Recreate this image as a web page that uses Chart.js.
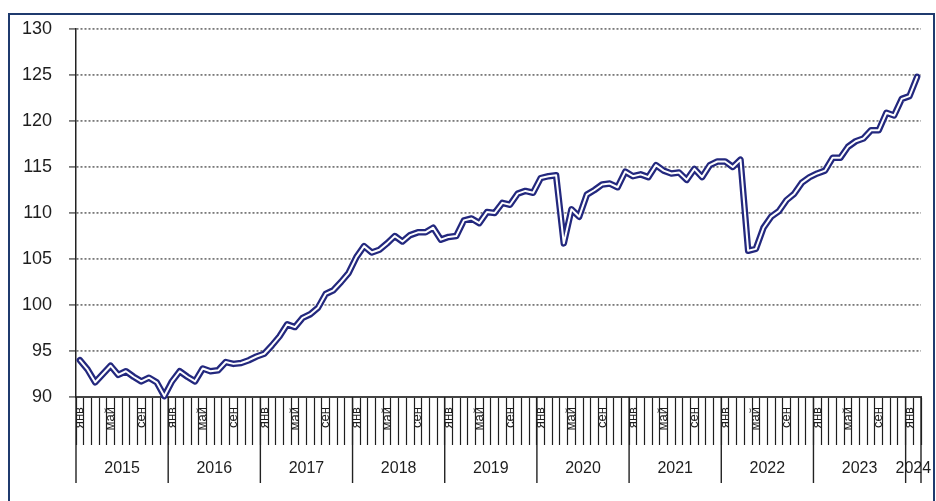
<!DOCTYPE html>
<html>
<head>
    <meta charset="utf-8">
    <title>Индекс</title>
    <script src="https://cdn.jsdelivr.net/npm/chart.js@4.4.1/dist/chart.umd.min.js"></script>
    <style>
        html, body { margin: 0; padding: 0; background: #fff; }
        #wrap { width: 936px; height: 501px; position: relative; }
    </style>
</head>
<body>
    <div id="wrap"><canvas id="chart"></canvas></div>
    <script>
    // years and month names of the category axis
    var years = ['2015', '2016', '2017', '2018', '2019', '2020', '2021', '2022', '2023', '2024'];
    var monthNames = ['янв', 'фев', 'мар', 'апр', 'май', 'июн', 'июл', 'авг', 'сен', 'окт', 'ноя', 'дек'];
    var shownMonths = ['янв', 'май', 'сен'];

    // index values by year, jan..dec (2024: jan, feb)
    var v2015 = [94.0, 93.0, 91.6, 92.5, 93.4, 92.4, 92.8, 92.2, 91.7, 92.1, 91.6, 90.1];
    var v2016 = [91.7, 92.8, 92.2, 91.7, 93.1, 92.8, 92.9, 93.8, 93.6, 93.7, 94.0, 94.4];
    var v2017 = [94.7, 95.6, 96.6, 97.9, 97.6, 98.6, 99.0, 99.7, 101.2, 101.6, 102.5, 103.5];
    var v2018 = [105.2, 106.4, 105.7, 106.0, 106.7, 107.5, 106.9, 107.6, 107.9, 107.9, 108.4, 107.1];
    var v2019 = [107.4, 107.5, 109.2, 109.4, 108.9, 110.1, 110.0, 111.1, 110.9, 112.1, 112.4, 112.2];
    var v2020 = [113.8, 114.0, 114.1, 106.7, 110.4, 109.6, 112.0, 112.5, 113.1, 113.2, 112.8, 114.5];
    var v2021 = [114.0, 114.2, 113.9, 115.2, 114.6, 114.3, 114.4, 113.6, 114.8, 113.9, 115.2, 115.6];
    var v2022 = [115.6, 115.0, 115.8, 105.9, 106.1, 108.4, 109.6, 110.2, 111.4, 112.1, 113.3, 113.9];
    var v2023 = [114.3, 114.6, 116.0, 116.0, 117.2, 117.8, 118.1, 119.0, 119.0, 120.9, 120.6, 122.4];
    var v2024 = [122.7, 124.8];

    var yTicks = { min: 90, max: 130, step: 5 };

    var series = [].concat(v2015, v2016, v2017, v2018, v2019, v2020, v2021, v2022, v2023, v2024);
    var labels = [];
    for (var i = 0; i < series.length; i++) {
        labels.push(monthNames[i % 12]);
    }

    var frame = {
        id: 'frame',
        afterDraw: function(chart) {
            var ctx = chart.ctx;
            var x = chart.scales.x;
            var area = chart.chartArea;
            var half = (x.getPixelForValue(1) - x.getPixelForValue(0)) / 2;
            ctx.save();
            // year separators and year labels
            ctx.strokeStyle = '#222';
            ctx.lineWidth = 1.4;
            ctx.fillStyle = '#1e1e1e';
            ctx.font = '16px "Liberation Sans", Arial, sans-serif';
            ctx.textAlign = 'center';
            ctx.textBaseline = 'middle';
            for (var k = 0; k < years.length; k++) {
                var first = k * 12;
                var last = Math.min(first + 11, series.length - 1);
                var x0 = x.getPixelForValue(first) - half;
                var x1 = x.getPixelForValue(last) + half;
                ctx.beginPath();
                ctx.moveTo(x0, area.bottom);
                ctx.lineTo(x0, 483);
                ctx.stroke();
                if (k == years.length - 1) {
                    ctx.beginPath();
                    ctx.moveTo(x1, area.bottom);
                    ctx.lineTo(x1, 483);
                    ctx.stroke();
                }
                ctx.fillText(years[k], (x0 + x1) / 2, 469);
            }
            // outer frame
            ctx.strokeStyle = '#1f3a6e';
            ctx.lineWidth = 2;
            ctx.strokeRect(9, 14, 925, 500);
            ctx.restore();
        }
    };

    var ctx = document.getElementById('chart');
    new Chart(ctx, {
        type: 'line',
        data: {
            labels: labels,
            datasets: [{
                label: 'inner',
                data: series,
                borderColor: '#ffffff',
                borderWidth: 2,
                pointRadius: 0,
                tension: 0,
                borderJoinStyle: 'round',
                borderCapStyle: 'round',
                clip: false
            }, {
                label: 'outer',
                data: series,
                borderColor: '#23287e',
                borderWidth: 6.5,
                pointRadius: 0,
                tension: 0,
                borderJoinStyle: 'round',
                borderCapStyle: 'round',
                clip: false
            }]
        },
        options: {
            responsive: true,
            maintainAspectRatio: false,
            animation: false,
            events: [],
            layout: { padding: { top: 29, right: 15, left: 0, bottom: 0 } },
            plugins: {
                legend: { display: false },
                tooltip: { enabled: false }
            },
            scales: {
                x: {
                    type: 'category',
                    offset: true,
                    afterFit: function(scale) { scale.height = 104; },
                    grid: {
                        offset: true,
                        drawOnChartArea: false,
                        drawTicks: true,
                        tickLength: 48,
                        tickColor: '#1e1e1e',
                        tickWidth: 1.2
                    },
                    border: { color: '#444', width: 2 },
                    ticks: {
                        autoSkip: false,
                        minRotation: 90,
                        maxRotation: 90,
                        padding: -38,
                        color: '#1e1e1e',
                        font: { family: '"Liberation Sans", Arial, sans-serif', size: 13 },
                        callback: function(val, idx) {
                            var m = labels[idx];
                            return shownMonths.indexOf(m) >= 0 ? m : '';
                        }
                    }
                },
                y: {
                    min: yTicks.min,
                    max: yTicks.max,
                    afterFit: function(scale) { scale.width = 76; },
                    grid: {
                        color: '#7a7a7a',
                        lineWidth: 1.8,
                        tickLength: 7,
                        tickColor: '#7a7a7a'
                    },
                    border: { color: '#222', width: 1.5, dash: [2, 2] },
                    ticks: {
                        stepSize: yTicks.step,
                        padding: 17,
                        color: '#1e1e1e',
                        font: { family: '"Liberation Sans", Arial, sans-serif', size: 18 }
                    }
                }
            }
        },
        plugins: [frame]
    });
    </script>
</body>
</html>
